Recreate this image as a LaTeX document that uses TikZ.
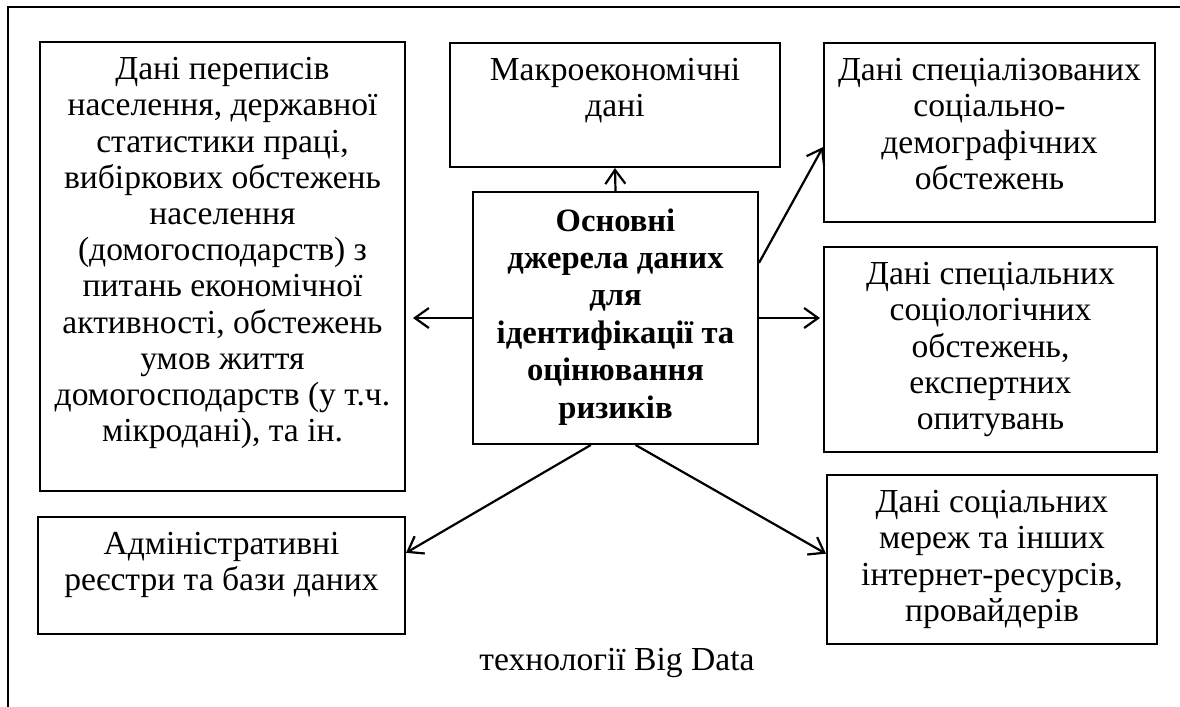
\documentclass[tikz,border=0pt]{standalone}
\usepackage{fontspec}
\setmainfont{Liberation Serif}
\usetikzlibrary{arrows.meta}
\begin{document}
\begin{tikzpicture}[x={(0.5pt,0pt)}, y={(0pt,-0.5pt)}, >={Straight Barb[length=7pt, width=10pt]},
      box/.style={draw, line width=1pt, inner sep=0pt},
      txt/.style={anchor=north, align=center, inner sep=0pt, font=\fontsize{16.8}{18.1}\selectfont},
      head/.style={txt, font=\fontsize{16.3}{18.7}\selectfont\bfseries},
      link/.style={->, line width=1.1pt}]
    \useasboundingbox (0,0) rectangle (1180,707);
    \draw[line width=1pt] (8,707) -- (8,7) -- (1180,7);
    \node[box, minimum width=182.5pt, minimum height=224.5pt] (census) at (222.5,266.5) {};
    \node[box, minimum width=165pt, minimum height=62pt] (macro) at (615,105) {};
    \node[box, minimum width=165.5pt, minimum height=89.5pt] (special) at (989.5,132.5) {};
    \node[box, minimum width=166.5pt, minimum height=102.5pt] (sociol) at (990.5,349.5) {};
    \node[box, minimum width=165pt, minimum height=84.5pt] (network) at (992,559.5) {};
    \node[box, minimum width=183.5pt, minimum height=58.5pt] (admin) at (221.5,575.5) {};
    \node[box, minimum width=142.5pt, minimum height=126pt] (core) at (615.5,318) {};
    \node[txt] (census-t) at ([yshift=-8pt]census.north) {Дані переписів\\ населення, державної\\ статистики праці,\\ вибіркових обстежень\\ населення\\ (домогосподарств) з\\ питань економічної\\ активності, обстежень\\ умов життя\\ домогосподарств (у т.ч.\\ мікродані), та ін.};
    \node[txt] (macro-t) at ([yshift=-8pt]macro.north) {Макроекономічні\\ дані};
    \node[txt] (special-t) at ([yshift=-8pt]special.north) {Дані спеціалізованих\\ соціально-\\ демографічних\\ обстежень};
    \node[txt] (sociol-t) at ([yshift=-8pt]sociol.north) {Дані спеціальних\\ соціологічних\\ обстежень,\\ експертних\\ опитувань};
    \node[txt] (network-t) at ([yshift=-8pt]network.north) {Дані соціальних\\ мереж та інших\\ інтернет-ресурсів,\\ провайдерів};
    \node[txt] (admin-t) at ([yshift=-8pt]admin.north) {Адміністративні\\ реєстри та бази даних};
    \node[head] (core-t) at ([yshift=-8.5pt]core.north) {Основні\\ джерела даних\\ для\\ ідентифікації та\\ оцінювання\\ ризиків};
    \draw[link] (core.north) -- (macro.south);
    \draw[link, shorten >=3.5pt] (core.west) -- (core.west -| census.east);
    \draw[link, shorten >=1.5pt] (core.east) -- (core.east -| sociol.west);
    \draw[link] (core.21) -- (special.185);
    \draw[link] (core.259) -- (admin.7);
    \draw[link] (core.279) -- (network.178);
    \node[font=\fontsize{16.8}{18.1}\selectfont, anchor=base] (bigdata) at (617,670) {технології Big Data};
  \end{tikzpicture}
\end{document}
